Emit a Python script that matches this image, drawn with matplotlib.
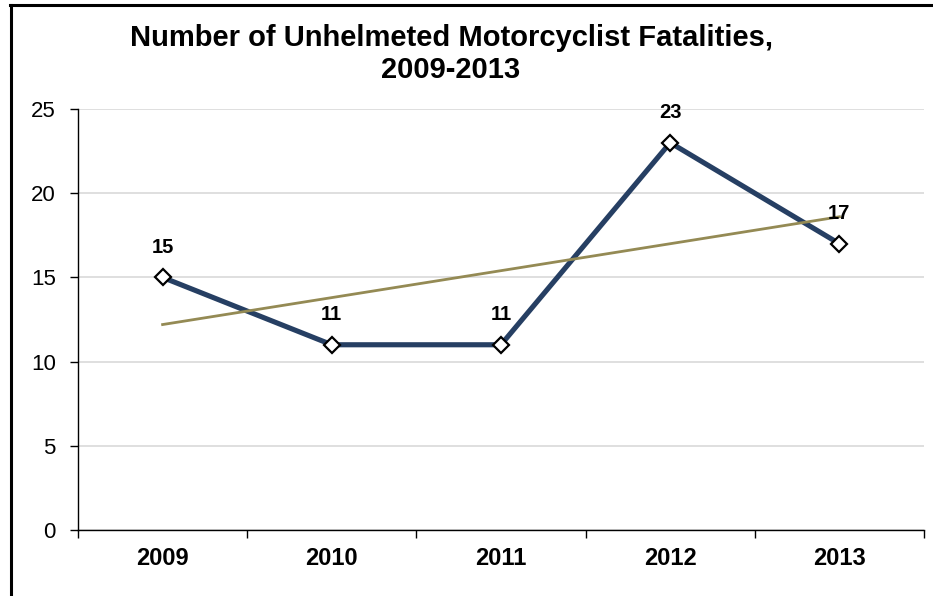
import numpy as np
import matplotlib
matplotlib.use("Agg")
import matplotlib.pyplot as plt
from matplotlib.lines import Line2D

plt.rcParams['font.family'] = ['Liberation Sans', 'DejaVu Sans']

years = ["2009", "2010", "2011", "2012", "2013"]
fatalities = [15, 11, 11, 23, 17]
title = "Number of Unhelmeted Motorcyclist Fatalities,\n2009-2013"

W, H = 933, 596
fig = plt.figure(figsize=(W / 100, H / 100), dpi=100)
ax = fig.add_axes([78 / W, 1 - 530 / H, (924 - 78) / W, (530 - 109) / H])

x = np.arange(len(years))
# linear trend line
coef = np.polyfit(x, fatalities, 1)
trend = np.polyval(coef, x)

ax.plot(x, fatalities, color='#263F63', lw=3.7, zorder=3, solid_joinstyle='miter')
ax.plot(x, fatalities, linestyle='none', marker='D', markersize=8.5,
        markerfacecolor='white', markeredgecolor='black', markeredgewidth=1.6, zorder=5)
ax.plot([x[0], x[-1]], [trend[0], trend[-1]], color='#948A54', lw=2.0, zorder=4)

for xi, v in zip(x, fatalities):
    ax.annotate(str(v), (xi, v), xytext=(0, 30), textcoords='offset pixels',
                ha='center', va='center', fontsize=14.5, fontweight='bold', zorder=6)

ax.set_xlim(-0.5, len(years) - 0.5)
ax.set_ylim(0, 25)
ax.set_yticks(range(0, 26, 5))
ax.yaxis.grid(True, color='#D9D9D9', lw=1.2)
ax.set_axisbelow(True)

ax.set_xticks(np.arange(-0.5, len(years), 1.0))
ax.set_xticklabels([])
ax.set_xticks(x, minor=True)
ax.set_xticklabels(years, minor=True, fontsize=17, fontweight='bold')
ax.tick_params(axis='x', which='minor', length=0, pad=12)
ax.tick_params(axis='x', which='major', length=6, width=1, direction='out')
ax.tick_params(axis='y', length=6, width=1, direction='out', labelsize=16, pad=10)

for s in ['top', 'right']:
    ax.spines[s].set_visible(False)
for s in ['left', 'bottom']:
    ax.spines[s].set_linewidth(1.0)

fig.text(451 / W, 1 - 54 / H, title, ha='center', va='center', fontsize=21,
         fontweight='bold', linespacing=1.19)

# chart border (left and top visible)
fig.add_artist(Line2D([11 / W, 11 / W], [0, 1 - 5 / H], transform=fig.transFigure,
                      color='black', lw=2.2))
fig.add_artist(Line2D([10 / W, 1], [1 - 5 / H, 1 - 5 / H], transform=fig.transFigure,
                      color='black', lw=2.2))

fig.savefig("out.png", dpi=100)
